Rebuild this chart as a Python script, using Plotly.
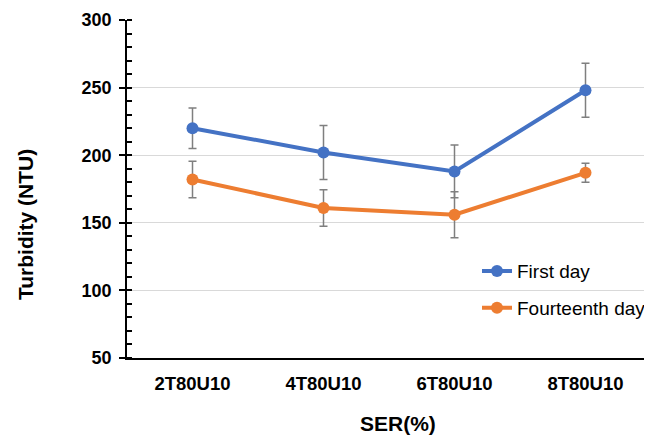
import plotly.graph_objects as go

categories = ["2T80U10", "4T80U10", "6T80U10", "8T80U10"]
first_day = [220, 202, 188, 248]
first_day_err = [15, 20, 19.5, 20]
fourteenth_day = [182, 161, 156, 187]
fourteenth_day_err = [13.5, 13.5, 17, 7]

blue = "#4472C4"
orange = "#ED7D31"
err_color = "#7F7F7F"
FONT = "Liberation Sans, Arial, sans-serif"

fig = go.Figure()
fig.add_trace(go.Scatter(
    x=categories, y=first_day, name="First day", mode="lines+markers",
    line=dict(color=blue, width=4), marker=dict(size=12, color=blue),
    error_y=dict(type="data", array=first_day_err, color=err_color, thickness=1.5, width=4),
    legendgroup="a"))
fig.add_trace(go.Scatter(
    x=categories, y=fourteenth_day, name="Fourteenth day", mode="lines+markers",
    line=dict(color=orange, width=4), marker=dict(size=12, color=orange),
    error_y=dict(type="data", array=fourteenth_day_err, color=err_color, thickness=1.5, width=4),
    legendgroup="b"))

# page body has an 8px default margin, so the figure is shrunk by 8px
fig.update_layout(
    width=644, height=428,
    margin=dict(l=119, r=1, t=12, b=78),
    paper_bgcolor="white", plot_bgcolor="white",
    font=dict(family=FONT, color="black"),
    legend=dict(x=1.0, y=0.313, xanchor="right", yanchor="top",
                font=dict(size=19, color="black"), tracegroupgap=9,
                bgcolor="rgba(0,0,0,0)"),
    xaxis=dict(
        type="category", range=[-0.5, 3.5], showline=True, linecolor="black", linewidth=1.5,
        ticks="", showgrid=False, ticklabelstandoff=8,
        tickfont=dict(size=18.5, family=FONT, weight="bold"),
    ),
    yaxis=dict(
        range=[50, 300], dtick=50, showline=True, linecolor="black", linewidth=1.5,
        ticks="outside", ticklen=6, tickcolor="black", tickwidth=1.5,
        ticklabelstandoff=4,
        showgrid=True, gridcolor="#D9D9D9", gridwidth=1,
        minor=dict(dtick=10, ticks="inside", ticklen=5, tickcolor="black", tickwidth=1.5, showgrid=False),
        tickfont=dict(size=18, weight="bold"),
        zeroline=False,
    ),
    annotations=[
        dict(text="<b>Turbidity (NTU)</b>", textangle=-90, xref="paper", yref="paper",
             x=(25 - 127) / 524, y=(358 - 225) / 338, xanchor="center", yanchor="middle",
             showarrow=False, font=dict(size=21, family=FONT, color="black")),
        dict(text="<b>SER(%)</b>", xref="paper", yref="paper",
             x=(398 - 127) / 524, y=(358 - 424) / 338, xanchor="center", yanchor="middle",
             showarrow=False, font=dict(size=21, family=FONT, color="black")),
    ],
)

fig.write_html("out.html")
